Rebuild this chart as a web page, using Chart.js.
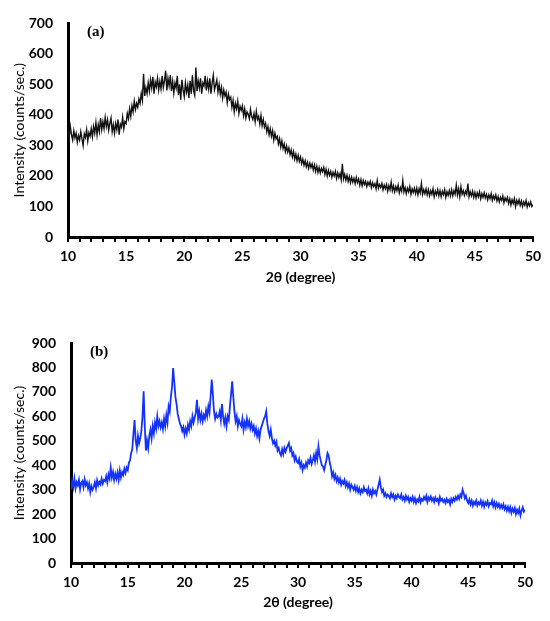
<!DOCTYPE html>
<html>
<head>
<meta charset="utf-8">
<script src="https://cdn.jsdelivr.net/npm/chart.js@4.4.1/dist/chart.umd.min.js"></script>
<style>
  body { margin: 0; background: #fff; }
  .box { position: absolute; left: 0; width: 550px; }
  #boxA { top: 0; height: 300px; }
  #boxB { top: 310px; height: 311px; }
</style>
</head>
<body>
<div class="box" id="boxA"><canvas id="grafA"></canvas></div>
<div class="box" id="boxB"><canvas id="grafB"></canvas></div>
<script>
// 2theta runs from 10 to 50 in steps of 0.1 (one row of ten values per degree)
var startAngle = 10;
var stepAngle = 0.1;

var intensityA = [
  350, 328, 362, 335, 318, 348, 325, 340, 310, 332,
  318, 345, 322, 300, 338, 326, 352, 315, 342, 330,
  355, 328, 362, 340, 375, 335, 368, 345, 390, 352,
  378, 355, 392, 362, 384, 350, 372, 390, 345, 368,
  340, 372, 352, 385, 335, 370, 360, 392, 355, 378,
  372, 405, 388, 420, 395, 430, 410, 445, 418, 438,
  425, 452, 438, 470, 448, 535, 462, 490, 470, 505,
  478, 515, 488, 525, 470, 508, 492, 520, 482, 510,
  485, 528, 490, 512, 545, 480, 520, 495, 530, 478,
  510, 472, 505, 488, 528, 465, 500, 450, 515, 482,
  460, 505, 475, 498, 455, 512, 470, 530, 480, 465,
  555, 478, 512, 488, 520, 470, 505, 495, 528, 480,
  512, 485, 520, 470, 505, 530, 482, 498, 515, 475,
  500, 468, 490, 455, 482, 462, 475, 440, 468, 450,
  458, 425, 448, 410, 438, 420, 445, 405, 428, 415,
  430, 398, 420, 390, 410, 402, 388, 418, 395, 385,
  405, 378, 412, 385, 395, 370, 398, 365, 385, 360,
  372, 345, 362, 335, 355, 330, 348, 318, 340, 322,
  330, 305, 322, 295, 315, 290, 305, 280, 298, 278,
  292, 270, 285, 262, 280, 255, 272, 250, 268, 248,
  262, 240, 255, 235, 250, 230, 245, 225, 242, 228,
  240, 220, 236, 215, 232, 212, 228, 210, 225, 214,
  228, 205, 222, 200, 218, 202, 215, 196, 212, 200,
  215, 192, 210, 195, 208, 188, 240, 190, 205, 186,
  202, 182, 198, 178, 196, 180, 192, 175, 195, 178,
  190, 170, 188, 168, 185, 172, 182, 165, 180, 170,
  182, 162, 178, 165, 175, 158, 185, 160, 172, 162,
  175, 155, 170, 158, 172, 150, 168, 155, 180, 152,
  168, 148, 165, 152, 170, 145, 162, 150, 185, 148,
  162, 142, 160, 148, 165, 140, 158, 146, 160, 142,
  160, 138, 158, 145, 175, 140, 155, 142, 158, 138,
  155, 135, 152, 140, 158, 132, 150, 138, 155, 135,
  152, 132, 150, 138, 155, 130, 148, 136, 152, 135,
  155, 135, 152, 140, 170, 138, 158, 132, 165, 140,
  152, 136, 150, 140, 175, 132, 148, 135, 150, 130,
  146, 128, 145, 132, 148, 125, 142, 130, 145, 128,
  140, 122, 138, 126, 142, 120, 135, 124, 138, 118,
  132, 115, 130, 120, 135, 112, 128, 118, 130, 110,
  125, 105, 122, 110, 126, 100, 120, 108, 122, 104,
  118, 100, 115, 104, 120, 98, 112, 102, 115, 100,
  106
];

var intensityB = [
  300, 335, 310, 345, 305, 330, 318, 340, 302, 328,
  335, 310, 342, 318, 330, 305, 325, 290, 315, 300,
  312, 330, 305, 338, 318, 332, 322, 345, 325, 340,
  335, 355, 330, 362, 345, 390, 350, 372, 340, 365,
  345, 370, 340, 378, 350, 372, 360, 385, 368, 390,
  380, 410, 420, 450, 465, 530, 585, 500, 470, 520,
  490, 510, 540, 600, 702, 560, 460, 500, 470, 520,
  545, 510, 560, 530, 575, 550, 600, 560, 580, 555,
  575, 548, 590, 560, 605, 575, 640, 620, 680, 720,
  797, 740, 680, 650, 610, 590, 570, 560, 540, 555,
  525, 550, 530, 565, 545, 580, 560, 600, 575, 595,
  615, 668, 590, 620, 585, 610, 580, 605, 590, 625,
  600, 640, 615, 682, 750, 690, 620, 590, 610, 595,
  600, 620, 585, 650, 600, 570, 595, 560, 600, 585,
  640, 690, 743, 680, 620, 580, 600, 560, 585, 570,
  560, 590, 545, 575, 555, 590, 560, 580, 550, 570,
  545, 560, 530, 550, 520, 540, 510, 545, 560, 575,
  590, 600, 620, 570, 540, 520, 545, 510, 490, 500,
  480, 495, 460, 470, 450, 440, 465, 445, 470, 455,
  470, 480, 491, 460, 470, 440, 450, 420, 435, 415,
  409, 425, 395, 410, 380, 400, 390, 410, 395, 420,
  410, 430, 405, 420, 440, 415, 450, 425, 477, 440,
  420, 400, 395, 380, 400, 420, 450, 440, 410, 390,
  355, 370, 345, 360, 335, 350, 330, 345, 320, 335,
  325, 340, 315, 330, 310, 325, 300, 320, 310, 300,
  315, 295, 310, 290, 305, 285, 300, 290, 310, 295,
  300, 285, 305, 280, 295, 275, 300, 285, 295, 280,
  300, 320, 341, 310, 290, 300, 275, 285, 270, 280,
  275, 265, 285, 270, 280, 260, 275, 265, 280, 270,
  265, 280, 260, 270, 255, 275, 260, 270, 250, 265,
  255, 270, 250, 265, 245, 260, 252, 270, 248, 262,
  255, 270, 260, 275, 250, 268, 258, 272, 255, 265,
  250, 268, 255, 262, 245, 270, 255, 262, 250, 258,
  245, 262, 250, 258, 240, 262, 250, 265, 255, 270,
  260, 275, 262, 280, 270, 300, 285, 265, 275, 255,
  245, 260, 240, 255, 235, 250, 240, 255, 235, 248,
  240, 255, 235, 250, 230, 248, 238, 252, 232, 245,
  240, 255, 232, 248, 228, 245, 230, 242, 225, 238,
  225, 240, 220, 232, 215, 230, 212, 228, 205, 222,
  210, 225, 200, 218, 205, 222, 195, 215, 228, 210,
  218
];

var xTicksMajor = [10, 15, 20, 25, 30, 35, 40, 45, 50];
var yMaxA = 700;
var yMaxB = 900;

function toPoints(values) {
  var pts = [];
  for (var i = 0; i < values.length; i++) {
    pts.push({ x: Math.round((startAngle + i * stepAngle) * 10) / 10, y: values[i] });
  }
  return pts;
}

var panelLabel = {
  id: 'panelLabel',
  afterDraw: function(chart, args, opts) {
    var ctx = chart.ctx;
    ctx.save();
    ctx.font = 'bold 15px "Liberation Serif"';
    ctx.fillStyle = '#000';
    ctx.textBaseline = 'middle';
    ctx.fillText(opts.text, chart.chartArea.left + opts.dx, chart.chartArea.top + opts.dy);
    ctx.restore();
  }
};

function creaGrafico(id, values, yMax, colore, spessore, area, label) {
  var tickFont = { family: 'Lato', size: 14, weight: 'bold' };
  return new Chart(document.getElementById(id), {
    type: 'line',
    data: {
      datasets: [{
        data: toPoints(values),
        borderColor: colore,
        borderWidth: spessore,
        pointRadius: 0,
        tension: 0,
        fill: false
      }]
    },
    options: {
      responsive: true,
      maintainAspectRatio: false,
      animation: false,
      events: [],
      layout: { padding: { left: 0, top: area.top, right: area.right, bottom: 0 } },
      plugins: {
        legend: { display: false },
        tooltip: { enabled: false },
        panelLabel: { text: label, dx: 19, dy: 9 }
      },
      scales: {
        x: {
          type: 'linear',
          min: 10,
          max: 50,
          afterFit: function(scale) { scale.height = area.xh; },
          afterBuildTicks: function(scale) {
            var t = [];
            for (var v = 10; v <= 50; v++) t.push({ value: v });
            scale.ticks = t;
          },
          ticks: {
            autoSkip: false,
            maxRotation: 0,
            padding: 6,
            color: '#000',
            font: tickFont,
            callback: function(v) { return xTicksMajor.indexOf(v) >= 0 ? String(v) : ''; }
          },
          grid: { drawOnChartArea: false, drawTicks: true, tickLength: 5, color: '#000', lineWidth: 2 },
          border: { display: true, color: '#000', width: 3 },
          title: {
            display: true,
            text: '2θ (degree)',
            color: '#000',
            font: { family: 'Lato', size: 14, weight: 'bold' },
            padding: { top: 0, bottom: area.tb }
          }
        },
        y: {
          min: 0,
          max: yMax,
          afterFit: function(scale) { scale.width = area.left; },
          ticks: { stepSize: 100, padding: 15, color: '#000', font: tickFont },
          grid: { display: false, drawTicks: false },
          border: { display: true, color: '#000', width: 3 },
          title: {
            display: true,
            text: 'Intensity (counts/sec.)',
            color: '#000',
            font: { family: 'Lato', size: 14 },
            padding: { top: 11, bottom: 0 }
          }
        }
      }
    },
    plugins: [panelLabel]
  });
}

creaGrafico('grafA', intensityA, yMaxA, '#111111', 1.4,
  { left: 68, top: 20, right: 17, xh: 63, tb: 14 }, '(a)');
creaGrafico('grafB', intensityB, yMaxB, 'rgb(20,50,255)', 1.8,
  { left: 71, top: 33, right: 25, xh: 58, tb: 10 }, '(b)');
</script>
</body>
</html>
